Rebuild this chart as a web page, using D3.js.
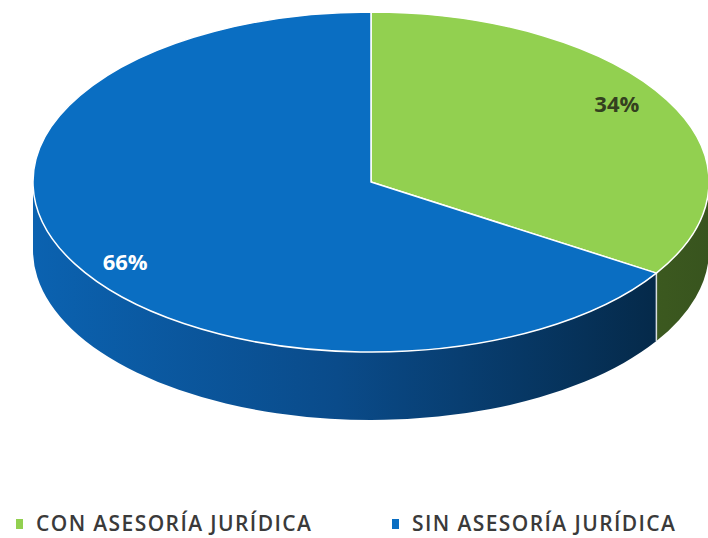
<!DOCTYPE html>
<html>
<head>
<meta charset="utf-8">
<script src="https://cdn.jsdelivr.net/npm/d3@7"></script>
<style>
  body { margin: 0; background: #fff; }
</style>
</head>
<body>
<script>
var categories = ['CON ASESORÍA JURÍDICA', 'SIN ASESORÍA JURÍDICA'];
var values = [34, 66];
var labels = ['34%', '66%'];

var topColors = ['#92d050', '#0a6ec2'];
var labelColors = ['#34401f', '#ffffff'];

var W = 708, H = 538;
var CX = 371, CY = 182, RX = 338, RY = 170, DEPTH = 68;

var svg = d3.select('body').append('svg')
  .attr('width', W)
  .attr('height', H);

var defs = svg.append('defs');
var gBlue = defs.append('linearGradient')
  .attr('id', 'side-blue')
  .attr('gradientUnits', 'userSpaceOnUse')
  .attr('x1', CX - RX).attr('x2', CX + RX).attr('y1', 0).attr('y2', 0);
gBlue.append('stop').attr('offset', '0%').attr('stop-color', '#0b62b0');
gBlue.append('stop').attr('offset', '45%').attr('stop-color', '#0a4b8a');
gBlue.append('stop').attr('offset', '100%').attr('stop-color', '#04243f');

var gGreen = defs.append('linearGradient')
  .attr('id', 'side-green')
  .attr('gradientUnits', 'userSpaceOnUse')
  .attr('x1', CX + 250).attr('x2', CX + RX).attr('y1', 0).attr('y2', 0);
gGreen.append('stop').attr('offset', '0%').attr('stop-color', '#3e5c20');
gGreen.append('stop').attr('offset', '100%').attr('stop-color', '#38541e');

var sideFills = ['url(#side-green)', 'url(#side-blue)'];

var pie = d3.pie().sort(null).value(function (d) { return d; });
var arcs = pie(values);

function pt(a, dy) {
  return [CX + RX * Math.sin(a), CY - RY * Math.cos(a) + (dy || 0)];
}

function topPath(d) {
  var p0 = pt(d.startAngle), p1 = pt(d.endAngle);
  var large = (d.endAngle - d.startAngle) > Math.PI ? 1 : 0;
  return 'M' + CX + ',' + CY + 'L' + p0 + 'A' + RX + ',' + RY + ' 0 ' + large + ' 1 ' + p1 + 'Z';
}

function sidePath(d) {
  var a0 = Math.max(d.startAngle, Math.PI / 2);
  var a1 = Math.min(d.endAngle, Math.PI * 1.5);
  if (a1 <= a0) return null;
  var p0 = pt(a0), p1 = pt(a1), q0 = pt(a0, DEPTH), q1 = pt(a1, DEPTH);
  var large = (a1 - a0) > Math.PI ? 1 : 0;
  return 'M' + p0 + 'A' + RX + ',' + RY + ' 0 ' + large + ' 1 ' + p1 +
    'L' + q1 + 'A' + RX + ',' + RY + ' 0 ' + large + ' 0 ' + q0 + 'Z';
}

// sides
svg.selectAll('path.side')
  .data(arcs)
  .enter().append('path')
  .attr('class', 'side')
  .attr('d', sidePath)
  .style('fill', function (d, i) { return sideFills[i]; });

// vertical seam on the side where slices meet
var seam = arcs[0].endAngle;
svg.append('line')
  .attr('x1', pt(seam)[0]).attr('y1', pt(seam)[1])
  .attr('x2', pt(seam)[0]).attr('y2', pt(seam, DEPTH)[1])
  .style('stroke', '#d8dde0')
  .style('stroke-width', 1.5);

// tops
svg.selectAll('path.top')
  .data(arcs)
  .enter().append('path')
  .attr('class', 'top')
  .attr('d', topPath)
  .style('fill', function (d, i) { return topColors[i]; })
  .style('stroke', '#ffffff')
  .style('stroke-width', 1.5)
  .style('stroke-linejoin', 'round');

// data labels
var KX = 0.83, KY = 0.97;
svg.selectAll('text.lbl')
  .data(arcs)
  .enter().append('text')
  .attr('class', 'lbl')
  .attr('x', function (d) { var m = (d.startAngle + d.endAngle) / 2; return CX + RX * KX * Math.sin(m); })
  .attr('y', function (d) { var m = (d.startAngle + d.endAngle) / 2; return CY - RY * KY * Math.cos(m); })
  .attr('text-anchor', 'middle')
  .attr('dominant-baseline', 'central')
  .style('font-family', '"Open Sans", sans-serif')
  .style('font-weight', 'bold')
  .style('font-size', '22px')
  .style('fill', function (d, i) { return labelColors[i]; })
  .text(function (d, i) { return labels[i]; });

// legend
var legendX = [16, 392];
var leg = svg.selectAll('g.legend')
  .data(categories)
  .enter().append('g')
  .attr('class', 'legend')
  .attr('transform', function (d, i) { return 'translate(' + legendX[i] + ',519)'; });

leg.append('rect')
  .attr('width', 7)
  .attr('height', 10)
  .style('fill', function (d, i) { return topColors[i]; });

leg.append('text')
  .attr('x', 20)
  .attr('y', 12)
  .style('font-family', '"Open Sans", sans-serif')
  .style('font-size', '21px')
  .style('font-weight', '600')
  .style('letter-spacing', '1.4px')
  .style('fill', '#3a3a3a')
  .text(function (d) { return d; });
</script>
</body>
</html>
